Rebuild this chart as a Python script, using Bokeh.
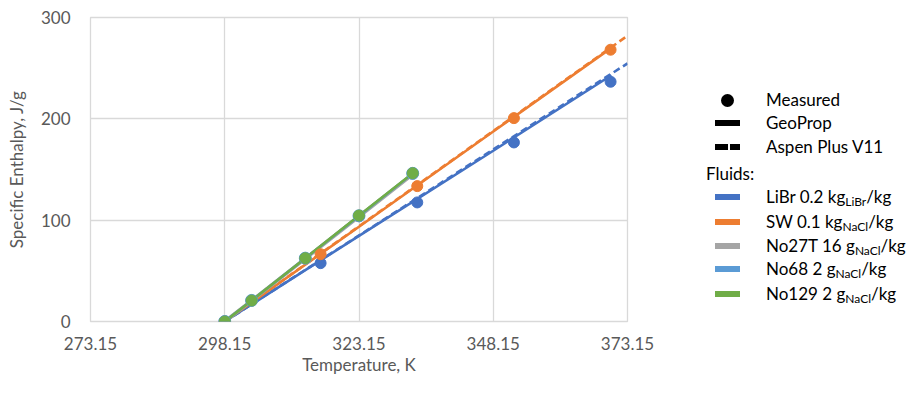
from bokeh.plotting import figure
from bokeh.models import Range1d, FixedTicker, NumeralTickFormatter, Div
from bokeh.layouts import row
from bokeh.embed import file_html
from bokeh.resources import INLINE

# ---------------- data ----------------
x_ticks = [273.15, 298.15, 323.15, 348.15, 373.15]
y_ticks = [0, 100, 200, 300]
x_title = "Temperature, K"
y_title = "Specific Enthalpy, J/g"

# Measured points
T_meas_libr = [298.15, 316.0, 334.0, 352.0, 370.0]
H_meas_libr = [0, 57.6, 117.5, 176.7, 236.6]
T_meas_sw = [298.15, 316.0, 334.0, 352.0, 370.0]
H_meas_sw = [0, 66.4, 133.6, 200.7, 268.2]
T_meas_geo = [298.15, 303.15, 313.15, 323.15, 333.15]
H_meas_no27t = [0, 20.6, 62.2, 103.8, 145.6]
H_meas_no68 = [0, 20.8, 62.5, 104.3, 146.2]
H_meas_no129 = [0, 20.7, 62.5, 104.6, 146.4]

# GeoProp model (solid)
T_geo_libr = [298.15, 323.15, 348.15, 370.15]
H_geo_libr = [0, 84.5, 168.5, 243.0]
T_geo_sw = [298.15, 323.15, 348.15, 370.15]
H_geo_sw = [0, 93.5, 187.5, 270.0]
T_geo_fluids = [298.15, 303.15, 313.15, 323.15, 333.15]
H_geo_no27t = [0, 20.6, 62.0, 103.6, 145.2]
H_geo_no68 = [0, 20.8, 62.4, 104.2, 146.0]
H_geo_no129 = [0, 20.7, 62.5, 104.6, 146.4]

# Aspen Plus V11 model (dashed)
T_aspen = [298.15, 373.15]
H_aspen_libr = [0, 254.7]
H_aspen_sw = [0, 282.0]

# legend
legend_heads = ["Measured", "GeoProp", "Aspen Plus V11"]
legend_fluids = [
    ("LiBr 0.2 kg", "LiBr", "/kg"),
    ("SW 0.1 kg", "NaCl", "/kg"),
    ("No27T 16 g", "NaCl", "/kg"),
    ("No68 2 g", "NaCl", "/kg"),
    ("No129 2 g", "NaCl", "/kg"),
]

# ---------------- styles ----------------
BLUE = "#4472C4"
ORANGE = "#ED7D31"
GRAY = "#A5A5A5"
LBLUE = "#5B9BD5"
GREEN = "#70AD47"
TXT = "#595959"
GRID = "#D9D9D9"
FONT = "Lato"
fluid_colors = [BLUE, ORANGE, GRAY, LBLUE, GREEN]

MAIN_W, H = 660, 377
p = figure(width=MAIN_W, height=H, output_backend="svg", toolbar_location=None,
           x_range=Range1d(273.15, 373.15), y_range=Range1d(0, 300),
           min_border_left=90, min_border_right=MAIN_W - 627,
           min_border_top=17, min_border_bottom=H - 321)
p.outline_line_color = GRID
p.outline_line_width = 1.3
p.background_fill_color = "white"
p.border_fill_color = "white"

for ax in (p.xaxis[0], p.yaxis[0]):
    ax.axis_line_color = None
    ax.major_tick_line_color = None
    ax.minor_tick_line_color = None
    ax.major_tick_out = 0
    ax.major_tick_in = 0
    ax.major_label_text_font = FONT
    ax.major_label_text_font_size = "17px"
    ax.major_label_text_color = TXT
    ax.axis_label_text_font = FONT
    ax.axis_label_text_font_size = "17px"
    ax.axis_label_text_color = TXT
    ax.axis_label_text_font_style = "normal"

p.xaxis.ticker = FixedTicker(ticks=x_ticks)
p.xaxis.formatter = NumeralTickFormatter(format="0.00")
p.xaxis.major_label_standoff = 15
p.xaxis.axis_label = x_title
p.xaxis.axis_label_standoff = 1

p.yaxis.ticker = FixedTicker(ticks=y_ticks)
p.yaxis.major_label_standoff = 20
p.yaxis.axis_label = y_title
p.yaxis.axis_label_standoff = 11

p.xgrid.ticker = FixedTicker(ticks=x_ticks)
p.ygrid.ticker = FixedTicker(ticks=y_ticks)
p.grid.grid_line_color = GRID
p.grid.grid_line_width = 1.3

LW = 2.6
DASH = "7 4"
# Aspen dashed
p.line(T_aspen, H_aspen_libr, color=BLUE, line_width=LW, line_dash=DASH)
p.line(T_aspen, H_aspen_sw, color=ORANGE, line_width=LW, line_dash=DASH)
# GeoProp solid
p.line(T_geo_libr, H_geo_libr, color=BLUE, line_width=LW)
p.line(T_geo_sw, H_geo_sw, color=ORANGE, line_width=LW)
p.line(T_geo_fluids, H_geo_no27t, color=GRAY, line_width=LW + 1)
p.line(T_geo_fluids, H_geo_no68, color=LBLUE, line_width=LW)
p.line(T_geo_fluids, H_geo_no129, color=GREEN, line_width=LW)
# measured
MS = 11
p.scatter(T_meas_libr, H_meas_libr, size=MS, color=BLUE)
p.scatter(T_meas_sw, H_meas_sw, size=MS, color=ORANGE)
p.scatter(T_meas_geo, H_meas_no27t, size=MS, color=GRAY)
p.scatter(T_meas_geo, H_meas_no68, size=MS + 1, color=LBLUE)
p.scatter(T_meas_geo, H_meas_no129, size=MS, color=GREEN)

# ---------------- legend panel (HTML, for real subscripts) ----------------
LEG_W = 891 - MAIN_W
DX = 668               # reference x -> legend-internal x
DY = 5                 # reference y -> legend-internal y
sym_x0 = 717.7 - DX
sym_w = 25
text_x = 769 - DX
fluids_x = 709 - DX
rows_y = [100, 122.7, 147, 174, 197.3, 221.7, 246, 269.3, 294.3]

def txt(x, y, html):
    return (f'<div style="position:absolute;left:{x:.1f}px;top:{y - DY - 11:.1f}px;'
            f'line-height:22px;font-family:{FONT};font-size:17px;color:#000;'
            f'white-space:nowrap;">{html}</div>')

def box(x, y, w, h, color, radius=0):
    return (f'<div style="position:absolute;left:{x:.1f}px;top:{y - DY - h / 2:.1f}px;'
            f'width:{w}px;height:{h}px;background:{color};border-radius:{radius}px;"></div>')

parts = []
parts.append(box(sym_x0 + sym_w / 2 - 6.5, rows_y[0], 13, 13, "#000", 7))
parts.append(box(sym_x0, rows_y[1], sym_w, 6, "#000"))
parts.append(box(sym_x0, rows_y[2], 13, 6, "#000"))
parts.append(box(sym_x0 + 15, rows_y[2], 10, 6, "#000"))
for i, h in enumerate(legend_heads):
    parts.append(txt(text_x, rows_y[i], h))
parts.append(txt(fluids_x, rows_y[3], "Fluids:"))
SUB = '<span style="font-size:12px;position:relative;top:3px;">{}</span>'
for i, (main, sub, tail) in enumerate(legend_fluids):
    y = rows_y[4 + i]
    parts.append(box(sym_x0, y, sym_w, 6, fluid_colors[i]))
    parts.append(txt(text_x, y, main + SUB.format(sub) + tail))

html = (f'<div style="position:relative;width:{LEG_W}px;height:{H}px;background:#fff;">'
        + "".join(parts) + "</div>")
legend = Div(text=html, width=LEG_W, height=H)

layout = row(p, legend)
open("out.html", "w").write(file_html(layout, INLINE))
